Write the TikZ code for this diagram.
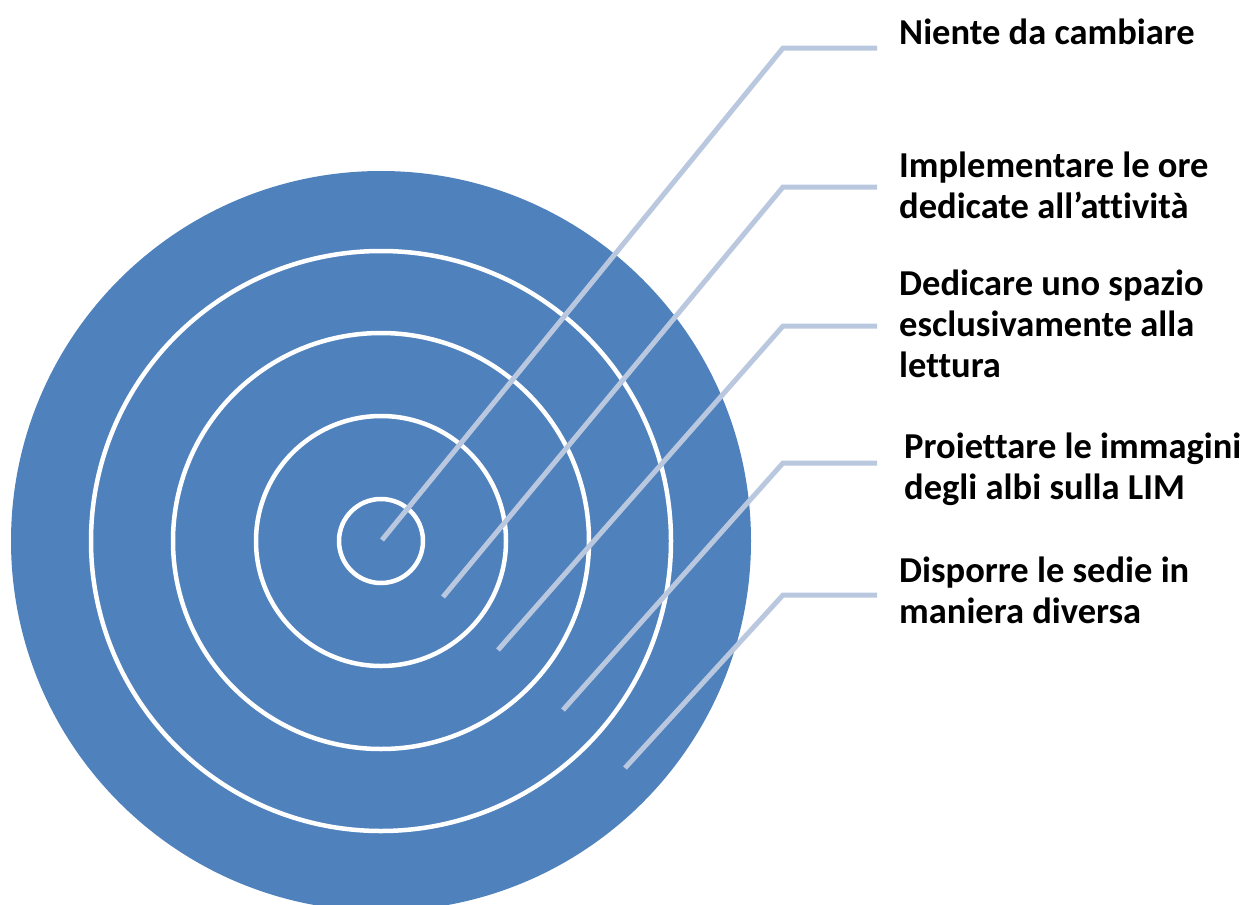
\documentclass[tikz,border=0pt]{standalone}
\usepackage{fontspec}
\setmainfont[Ligatures=NoCommon]{Carlito}
\definecolor{ringblue}{HTML}{4F81BD}
\definecolor{leaderc}{HTML}{B9C8DF}
\begin{document}
\begin{tikzpicture}[x=1pt,y=-1pt,
  ring/.style={draw=white,line width=4.5pt},
  leader/.style={draw=leaderc,line width=5pt},
  lbl/.style={anchor=base west,inner sep=0pt,align=left,font=\fontsize{36.5}{41}\selectfont\bfseries}]
\useasboundingbox (0,0) rectangle (1256,905);
\begin{scope}
\clip (0,0) rectangle (1256,905);
\fill[ringblue] (381,541) circle[radius=370];
\end{scope}
\foreach \r in {42,125,208,290} \draw[ring] (381,541) circle[radius=\r];
% anchor points
\coordinate (s1) at (382,540);
\coordinate (s2) at (443,597);
\coordinate (s3) at (498,650);
\coordinate (s4) at (563,710);
\coordinate (s5) at (625,768);
\coordinate (k1) at (783,48);
\coordinate (k2) at (783,187);
\coordinate (k3) at (783,326);
\coordinate (k4) at (783,463);
\coordinate (k5) at (783,595);
\coordinate (e1) at (877,48);
\coordinate (e2) at (877,187);
\coordinate (e3) at (877,326);
\coordinate (e4) at (877,463);
\coordinate (e5) at (877,595);
\draw[leader] (s1) -- (k1) -- (e1);
\draw[leader] (s2) -- (k2) -- (e2);
\draw[leader] (s3) -- (k3) -- (e3);
\draw[leader] (s4) -- (k4) -- (e4);
\draw[leader] (s5) -- (k5) -- (e5);
% base anchor of a multi-line node = baseline of its last line
\node[lbl] (t1) at (899,44) {Niente da cambiare};
\node[lbl] (t2) at (899,218) {Implementare le ore\\dedicate all’attività};
\node[lbl] (t3) at (899,377) {Dedicare uno spazio\\esclusivamente alla\\lettura};
\node[lbl] (t4) at (904,499) {Proiettare le immagini\\degli albi sulla LIM};
\node[lbl] (t5) at (899,623) {Disporre le sedie in\\maniera diversa};
\end{tikzpicture}
\end{document}
